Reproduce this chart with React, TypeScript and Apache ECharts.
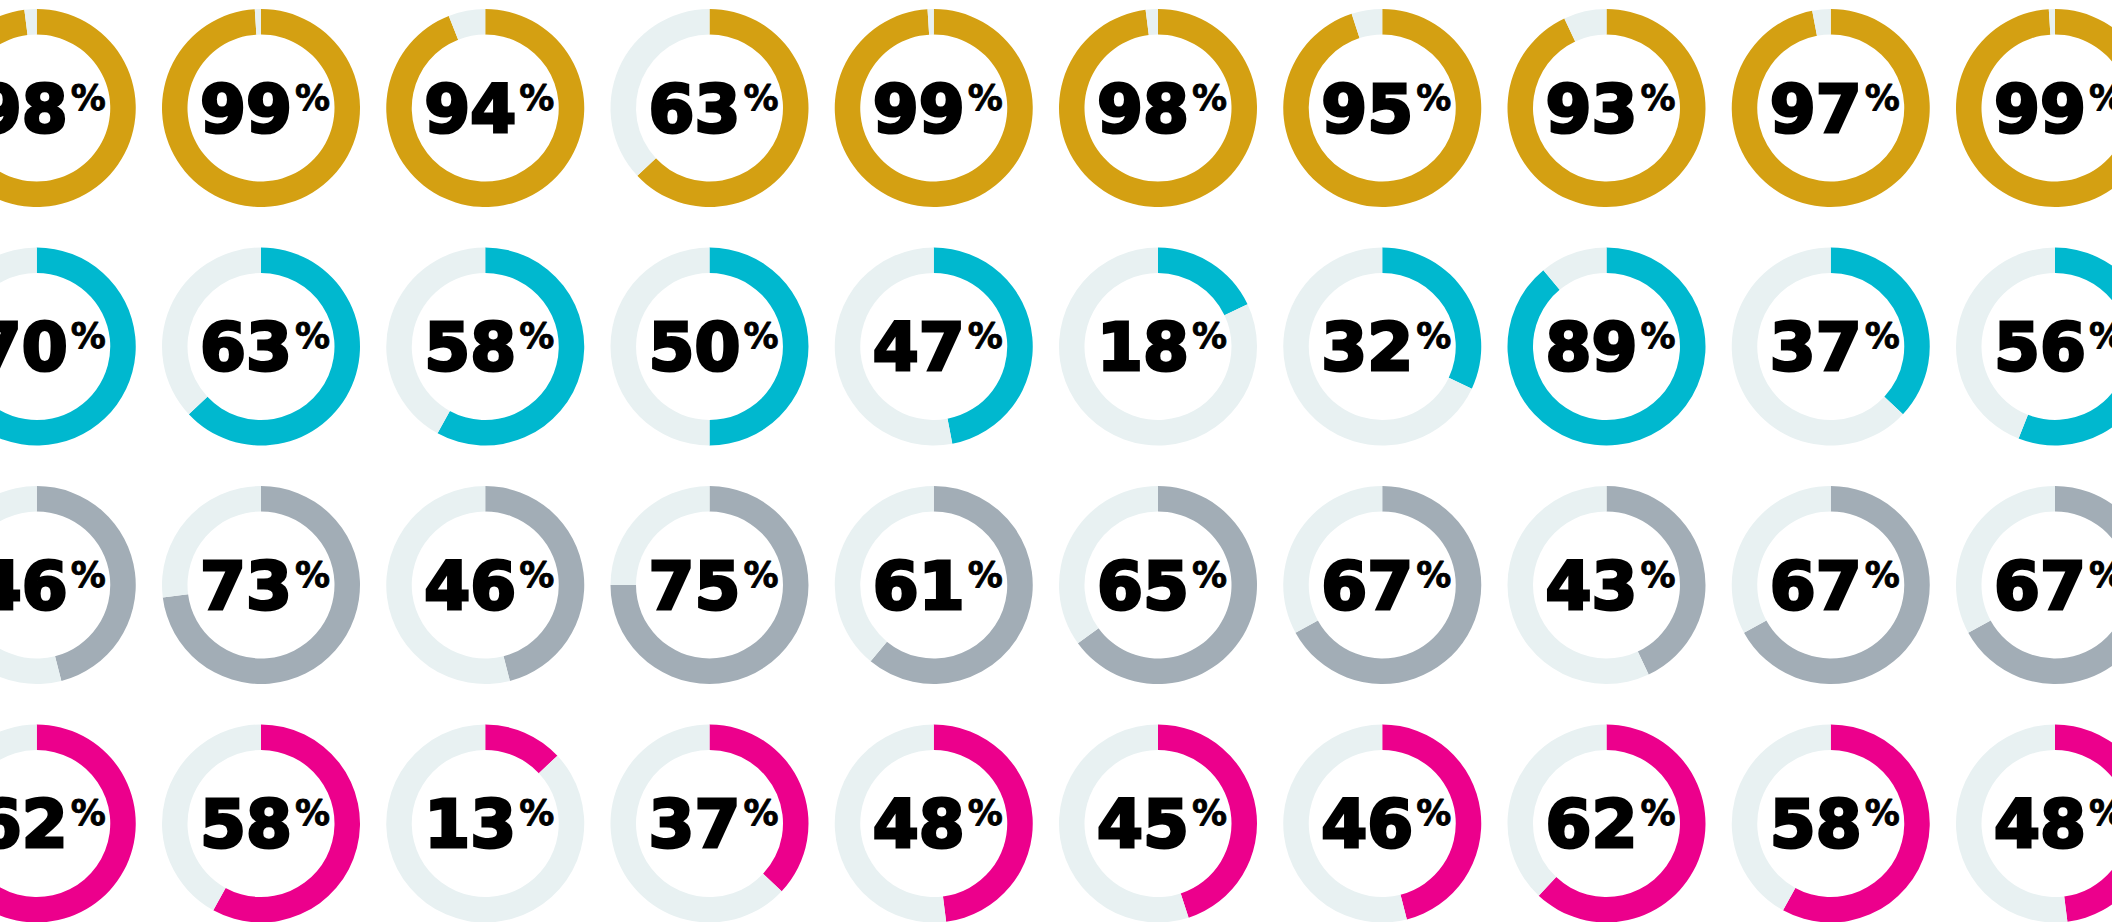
import React, { useEffect, useRef } from "react";
import * as echarts from "echarts";

const goldValues = [98, 99, 94, 63, 99, 98, 95, 93, 97, 99];
const cyanValues = [70, 63, 58, 50, 47, 18, 32, 89, 37, 56];
const grayValues = [46, 73, 46, 75, 61, 65, 67, 43, 67, 67];
const magentaValues = [62, 58, 13, 37, 48, 45, 46, 62, 58, 48];

const rowValues = [goldValues, cyanValues, grayValues, magentaValues];
const rowColors = ["#D4A012", "#00B8CF", "#A2ADB6", "#EC008C"];
const trackColor = "#E8F1F2";

const W = 2112;
const H = 922;
const colX0 = 36.75;
const colStep = 224.25;
const rowY0 = 108;
const rowStep = 238.5;

export default function App() {
  const ref = useRef<HTMLDivElement>(null);
  useEffect(() => {
    if (!ref.current) return;
    const chart = echarts.init(ref.current, null, { renderer: "svg", width: W, height: H });
    const series: any[] = [];
    rowValues.forEach((vals, r) => {
      vals.forEach((v, c) => {
        series.push({
          type: "pie",
          center: [colX0 + colStep * c, rowY0 + rowStep * r],
          radius: [73.5, 99],
          startAngle: 90,
          clockwise: true,
          silent: true,
          avoidLabelOverlap: false,
          emphasis: { disabled: true },
          labelLine: { show: false },
          itemStyle: { borderWidth: 0 },
          label: {
            show: true,
            position: "center",
            offset: [4, 1],
            formatter: (p: any) => `{n|${p.value}}{p|%}`,
            rich: {
              n: {
                fontFamily: "DejaVu Sans",
                fontWeight: "bold",
                fontSize: 66,
                color: "#000",
                textBorderColor: "#000",
                textBorderWidth: 3,
                lineHeight: 70,
                verticalAlign: "middle",
              },
              p: {
                fontFamily: "DejaVu Sans",
                fontWeight: "bold",
                fontSize: 35,
                color: "#000",
                textBorderColor: "#000",
                textBorderWidth: 0.8,
                lineHeight: 40,
                verticalAlign: "top",
                padding: [6, 0, 0, 3],
              },
            },
          },
          data: [
            { value: v, itemStyle: { color: rowColors[r] } },
            { value: 100 - v, itemStyle: { color: trackColor }, label: { show: false } },
          ],
        });
      });
    });
    chart.setOption({ animation: false, backgroundColor: "#fff", series });
    return () => chart.dispose();
  }, []);
  return (
    <div
      ref={ref}
      style={{ position: "absolute", left: 0, top: 0, width: W, height: H }}
    />
  );
}
